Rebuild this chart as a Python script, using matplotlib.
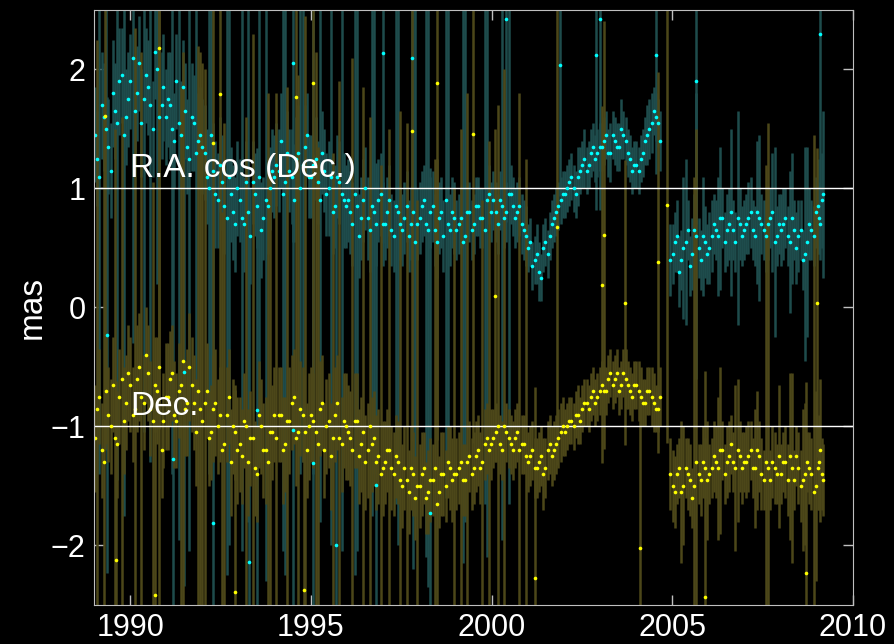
import numpy as np
import matplotlib
matplotlib.use("Agg")
import matplotlib.pyplot as plt

plt.rcParams['font.family'] = ['Liberation Sans', 'DejaVu Sans']

# --- sessions, first set (shared by both components) ---
t = [1989.03, 1989.15, 1989.27, 1989.40, 1989.52, 1989.64, 1989.77, 1989.89,
     1990.01, 1990.13, 1990.25, 1990.38, 1990.50, 1990.62, 1990.74, 1990.87, 1990.98,
     1991.10, 1991.22, 1991.34, 1991.46, 1991.58, 1991.70, 1991.82, 1991.94,
     1992.06, 1992.18, 1992.30, 1992.42, 1992.55, 1992.67, 1992.79, 1992.91,
     1993.03, 1993.15, 1993.27, 1993.39, 1993.51, 1993.63, 1993.75, 1993.87, 1993.99,
     1994.11, 1994.23, 1994.35, 1994.47, 1994.59, 1994.71, 1994.83, 1994.95,
     1995.07, 1995.19, 1995.31, 1995.43, 1995.55, 1995.67, 1995.79, 1995.91,
     1996.03, 1996.15, 1996.27, 1996.39, 1996.51, 1996.63, 1996.75, 1996.87, 1996.99,
     1997.11, 1997.23, 1997.35, 1997.47, 1997.59, 1997.71, 1997.83, 1997.95,
     1998.07, 1998.19, 1998.31, 1998.43, 1998.55, 1998.67, 1998.79, 1998.91,
     1999.03, 1999.15, 1999.27, 1999.39, 1999.51, 1999.63, 1999.75, 1999.87, 1999.99,
     2000.11, 2000.23, 2000.35, 2000.47, 2000.59, 2000.71, 2000.83, 2000.95,
     2001.07, 2001.19, 2001.31, 2001.43, 2001.55, 2001.67, 2001.79, 2001.91,
     2002.03, 2002.15, 2002.27, 2002.39, 2002.51, 2002.63, 2002.75, 2002.87, 2002.99,
     2003.11, 2003.23, 2003.35, 2003.47, 2003.59, 2003.71, 2003.83, 2003.95,
     2004.07, 2004.19, 2004.31, 2004.43, 2004.55, 2004.67, 2004.95,
     2005.07, 2005.19, 2005.31, 2005.43, 2005.55, 2005.67, 2005.79, 2005.91,
     2006.03, 2006.15, 2006.27, 2006.39, 2006.51, 2006.63, 2006.75, 2006.87, 2006.99,
     2007.11, 2007.23, 2007.35, 2007.47, 2007.59, 2007.71, 2007.83, 2007.95,
     2008.07, 2008.19, 2008.31, 2008.43, 2008.55, 2008.67, 2008.79, 2008.91,
     2009.03, 2009.10, 2009.17]

# R.A. cos(Dec.) offsets [mas]
ra = [0.45, 0.10, 0.60, 0.35, 0.80, 0.55, 0.95, 0.60,
      0.90, 0.65, 1.05, 0.75, 0.85, 0.50, 1.00, 0.70, 0.60,
      0.70, 0.40, 0.55, 0.85, 0.35, 0.60, 0.30, 0.45,
      0.30, 0.00, 0.15, -0.10, 0.05, -0.25, -0.05, -0.30,
      -0.10, -0.30, -0.20, 0.05, -0.15, -0.35, -0.10, 0.00, 0.10,
      0.15, -0.05, 0.30, 0.10, 0.25, 0.00, 0.35, 0.10,
      0.20, 0.05, 0.30, -0.05, 0.10, -0.15, 0.05, -0.10,
      -0.10, -0.30, -0.15, -0.25, 0.00, -0.35, -0.20, -0.10, -0.30,
      -0.20, -0.35, -0.15, -0.30, -0.25, -0.40, -0.20, -0.30,
      -0.15, -0.30, -0.20, -0.35, -0.25, -0.40, -0.30, -0.20,
      -0.35, -0.25, -0.40, -0.20, -0.30, -0.15, -0.25, -0.10, -0.20,
      -0.20, -0.10, -0.25, -0.05, -0.15, -0.20, -0.30, -0.40,
      -0.45, -0.60, -0.70, -0.50, -0.55, -0.30, -0.20, -0.10,
      -0.05, 0.05, 0.00, 0.10, 0.20, 0.15, 0.30, 0.25, 0.35,
      0.40, 0.30, 0.45, 0.35, 0.50, 0.40, 0.25, 0.20,
      0.15, 0.30, 0.45, 0.55, 0.60, 0.40, -0.60,
      -0.45, -0.70, -0.50, -0.35, -0.55, -0.40, -0.60, -0.45,
      -0.50, -0.30, -0.40, -0.25, -0.35, -0.20, -0.45, -0.30, -0.35,
      -0.25, -0.35, -0.20, -0.30, -0.40, -0.25, -0.45, -0.30,
      -0.30, -0.40, -0.25, -0.50, -0.35, -0.55, -0.30, -0.40,
      -0.15, -0.30, -0.05]

ra_err = [0.40, 2.50, 0.45, 0.40, 0.45, 3.00, 0.40, 0.40,
          0.40, 0.45, 0.40, 2.80, 0.40, 0.40, 1.80, 0.45, 0.40,
          0.45, 0.40, 3.50, 0.40, 0.40, 0.45, 2.20, 0.40,
          0.40, 2.40, 0.40, 0.40, 0.40, 3.00, 0.40, 0.40,
          0.35, 0.40, 2.60, 0.35, 0.35, 0.40, 3.20, 0.35, 0.35,
          0.35, 3.00, 0.35, 0.40, 0.35, 2.40, 0.35, 0.35,
          2.60, 0.35, 0.35, 0.35, 3.10, 0.35, 0.35, 0.40,
          0.35, 0.35, 2.90, 0.35, 0.35, 0.35, 2.20, 0.35, 0.35,
          0.30, 0.30, 2.50, 0.30, 0.30, 0.30, 3.00, 0.30,
          0.30, 2.80, 0.30, 0.30, 0.30, 0.30, 2.00, 0.30,
          0.25, 0.25, 2.40, 0.25, 0.25, 0.25, 0.25, 3.00, 0.25,
          0.25, 0.25, 0.25, 2.60, 0.25, 0.25, 0.25, 0.25,
          0.20, 0.20, 0.25, 0.20, 0.20, 0.20, 0.20, 0.20,
          0.20, 0.20, 0.20, 0.25, 0.20, 0.20, 0.20, 0.20, 0.20,
          0.20, 0.20, 0.20, 0.20, 0.25, 0.20, 0.20, 0.20,
          0.20, 0.20, 0.25, 0.25, 0.20, 0.25, 0.30,
          0.25, 0.30, 0.60, 0.25, 0.30, 1.20, 0.25, 0.30,
          0.30, 0.25, 0.50, 0.25, 0.30, 0.70, 0.25, 0.30, 0.25,
          0.30, 0.25, 0.60, 0.25, 0.30, 0.25, 0.80, 0.25,
          0.30, 0.25, 0.55, 0.30, 0.25, 0.90, 0.30, 0.25,
          0.40, 0.30, 0.70]

# Dec. offsets [mas]
dec = [-0.10, 0.25, -0.30, 0.10, 0.35, -0.15, 0.40, 0.20,
       0.35, 0.15, 0.50, 0.20, 0.45, 0.05, 0.30, -0.20, 0.25,
       0.40, 0.10, 0.30, 0.55, 0.20, 0.35, -0.05, 0.15,
       0.20, -0.10, 0.15, 0.00, -0.20, 0.10, -0.30, -0.05,
       -0.15, 0.05, -0.30, -0.10, -0.40, 0.00, -0.20, -0.05, 0.10,
       0.10, -0.20, 0.05, 0.20, -0.10, 0.15, -0.05, 0.00,
       0.05, -0.15, 0.20, 0.00, -0.25, 0.10, -0.10, 0.05,
       -0.05, -0.20, 0.05, -0.15, -0.30, 0.00, -0.10, -0.25, -0.35,
       -0.20, -0.35, -0.25, -0.45, -0.35, -0.55, -0.40, -0.50,
       -0.40, -0.60, -0.45, -0.35, -0.55, -0.40, -0.30, -0.45,
       -0.40, -0.30, -0.45, -0.25, -0.35, -0.20, -0.30, -0.10, -0.15,
       -0.05, -0.15, 0.00, -0.10, -0.20, -0.05, -0.15, -0.25,
       -0.25, -0.35, -0.30, -0.40, -0.20, -0.25, -0.15, -0.05,
       -0.05, 0.05, 0.00, 0.10, 0.15, 0.20, 0.25, 0.20, 0.30,
       0.30, 0.40, 0.35, 0.45, 0.35, 0.40, 0.30, 0.35,
       0.30, 0.20, 0.30, 0.25, 0.15, 0.25, -0.40,
       -0.55, -0.35, -0.50, -0.40, -0.60, -0.30, -0.45, -0.35,
       -0.40, -0.25, -0.35, -0.20, -0.30, -0.15, -0.35, -0.25, -0.30,
       -0.25, -0.35, -0.20, -0.40, -0.30, -0.45, -0.35, -0.25,
       -0.30, -0.45, -0.35, -0.25, -0.50, -0.40, -0.35, -0.55,
       -0.35, -0.20, -0.45]

dec_err = [0.45, 0.40, 3.00, 0.40, 0.40, 0.45, 2.20, 0.40,
           0.40, 3.20, 0.45, 0.40, 0.40, 2.00, 0.45, 0.40, 0.45,
           0.40, 0.45, 0.40, 2.60, 0.45, 0.40, 0.45, 3.00,
           2.80, 0.40, 0.45, 0.40, 2.00, 0.40, 0.45, 0.40,
           0.40, 0.40, 0.45, 3.40, 0.40, 0.40, 0.45, 2.20, 0.40,
           0.40, 0.45, 2.80, 0.40, 0.40, 0.40, 3.50, 0.45,
           0.40, 2.50, 0.40, 0.40, 0.45, 0.40, 3.00, 0.40,
           0.40, 3.30, 0.40, 0.40, 0.40, 2.60, 0.40, 0.40, 0.40,
           0.35, 0.35, 0.35, 3.10, 0.35, 0.35, 0.35, 2.40,
           0.35, 0.30, 0.35, 2.60, 0.30, 0.35, 0.30, 0.35,
           0.30, 2.80, 0.30, 0.30, 0.30, 0.30, 2.20, 0.30, 0.30,
           0.25, 0.25, 3.00, 0.25, 0.25, 0.25, 0.25, 2.50,
           0.25, 0.25, 0.25, 0.30, 0.25, 0.25, 0.25, 0.25,
           0.20, 0.20, 0.20, 0.25, 0.20, 0.20, 0.20, 0.20, 0.20,
           0.20, 0.20, 0.20, 0.20, 0.20, 0.25, 0.20, 0.20,
           0.25, 0.20, 0.20, 0.25, 0.20, 0.25, 0.30,
           0.30, 0.25, 0.50, 0.30, 0.25, 2.80, 0.30, 0.25,
           0.25, 0.30, 0.60, 0.25, 0.30, 0.25, 0.70, 0.30, 0.25,
           0.30, 0.25, 0.50, 0.30, 2.50, 0.25, 0.30, 0.60,
           0.25, 0.30, 0.80, 0.25, 0.30, 0.60, 0.30, 3.00,
           0.35, 0.60, 0.30]

# --- sessions, second set ---
t2 = [1989.09, 1989.21, 1989.33, 1989.46, 1989.58, 1989.70, 1989.83, 1989.95,
      1990.07, 1990.19, 1990.31, 1990.44, 1990.56, 1990.68, 1990.80, 1990.92,
      1991.04, 1991.16, 1991.28, 1991.40, 1991.52, 1991.64, 1991.76, 1991.88,
      1992.00, 1992.12, 1992.24, 1992.36, 1992.48, 1992.61, 1992.73, 1992.85, 1992.97,
      1993.09, 1993.21, 1993.33, 1993.45, 1993.57, 1993.69, 1993.81, 1993.93,
      1994.05, 1994.17, 1994.29, 1994.41, 1994.53, 1994.65, 1994.77, 1994.89,
      1995.01, 1995.13, 1995.25, 1995.37, 1995.49, 1995.61, 1995.73, 1995.85, 1995.97,
      1996.09, 1996.21, 1996.33, 1996.45, 1996.57, 1996.69, 1996.81, 1996.93,
      1997.05, 1997.17, 1997.29, 1997.41, 1997.53, 1997.65, 1997.77, 1997.89,
      1998.01, 1998.13, 1998.25, 1998.37, 1998.49, 1998.61, 1998.73, 1998.85, 1998.97,
      1999.09, 1999.21, 1999.33, 1999.45, 1999.57, 1999.69, 1999.81, 1999.93,
      2000.05, 2000.17, 2000.29, 2000.41, 2000.53, 2000.65, 2000.77, 2000.89,
      2001.01, 2001.13, 2001.25, 2001.37, 2001.49, 2001.61, 2001.73, 2001.85, 2001.97,
      2002.09, 2002.21, 2002.33, 2002.45, 2002.57, 2002.69, 2002.81, 2002.93,
      2003.05, 2003.17, 2003.29, 2003.41, 2003.53, 2003.65, 2003.77, 2003.89,
      2004.01, 2004.13, 2004.25, 2004.37, 2004.49, 2004.61,
      2005.01, 2005.13, 2005.25, 2005.37, 2005.49, 2005.61, 2005.73, 2005.85, 2005.97,
      2006.09, 2006.21, 2006.33, 2006.45, 2006.57, 2006.69, 2006.81, 2006.93,
      2007.05, 2007.17, 2007.29, 2007.41, 2007.53, 2007.65, 2007.77, 2007.89,
      2008.01, 2008.13, 2008.25, 2008.37, 2008.49, 2008.61, 2008.73, 2008.85, 2008.97,
      2009.07, 2009.14]

ra2 = [0.25, 0.70, 0.50, 0.15, 0.65, 0.90, 0.45, 0.75,
       1.10, 0.80, 0.55, 0.95, 0.70, 1.15, 0.60, 0.85,
       0.75, 0.50, 0.90, 0.45, 0.65, 0.25, 0.55, 0.40,
       0.35, 0.10, 0.45, -0.05, 0.20, -0.15, 0.10, -0.20, 0.00,
       -0.25, 0.05, -0.40, -0.05, 0.10, -0.25, -0.15, 0.15,
       0.20, 0.40, 0.05, 0.15, -0.10, 0.30, 0.20, 0.45,
       0.10, 0.25, -0.10, 0.15, 0.00, -0.20, 0.10, -0.05, -0.15,
       -0.20, -0.05, -0.40, -0.10, -0.25, -0.15, -0.30, -0.05,
       -0.30, -0.10, -0.40, -0.20, -0.35, -0.15, -0.30, -0.45,
       -0.25, -0.10, -0.35, -0.15, -0.45, -0.20, -0.10, -0.35, -0.25,
       -0.30, -0.45, -0.20, -0.35, -0.15, -0.25, -0.35, -0.05,
       -0.10, -0.30, -0.15, -0.20, -0.05, -0.25, -0.15, -0.35,
       -0.50, -0.65, -0.55, -0.75, -0.45, -0.40, -0.25, -0.15, -0.05,
       0.00, 0.10, -0.05, 0.15, 0.25, 0.20, 0.35, 0.30,
       0.35, 0.45, 0.30, 0.40, 0.35, 0.45, 0.30, 0.15,
       0.20, 0.25, 0.40, 0.50, 0.65, 0.55,
       -0.55, -0.40, -0.60, -0.45, -0.65, -0.35, -0.50, -0.40, -0.55,
       -0.40, -0.35, -0.25, -0.45, -0.30, -0.35, -0.25, -0.40,
       -0.30, -0.20, -0.40, -0.25, -0.35, -0.30, -0.20, -0.40,
       -0.35, -0.25, -0.45, -0.35, -0.40, -0.60, -0.45, -0.35, -0.20,
       -0.25, -0.10]

ra2_err = [0.40, 0.45, 2.70, 0.40, 0.40, 0.45, 3.20, 0.40,
           2.40, 0.40, 0.45, 0.40, 3.00, 0.40, 0.40, 0.45,
           0.40, 2.90, 0.40, 0.45, 0.40, 3.30, 0.40, 0.40,
           0.40, 0.40, 2.60, 0.45, 0.40, 0.40, 3.10, 0.40, 0.40,
           2.80, 0.35, 0.40, 0.35, 2.40, 0.35, 0.40, 0.35,
           0.35, 0.40, 3.30, 0.35, 0.35, 0.40, 2.50, 0.35,
           0.35, 0.35, 2.70, 0.35, 0.40, 0.35, 0.35, 3.00, 0.35,
           0.35, 3.20, 0.35, 0.35, 0.35, 2.60, 0.35, 0.35,
           0.30, 0.30, 0.30, 2.80, 0.30, 0.30, 0.30, 2.30,
           0.30, 0.30, 3.00, 0.30, 0.30, 0.30, 2.50, 0.30, 0.30,
           0.25, 2.70, 0.25, 0.25, 0.25, 0.25, 2.30, 0.25,
           0.25, 0.25, 2.80, 0.25, 0.25, 0.25, 0.25, 0.25,
           0.20, 0.20, 0.25, 0.20, 0.20, 0.20, 0.20, 0.20, 0.20,
           0.20, 0.20, 0.20, 0.20, 0.25, 0.20, 0.20, 0.20,
           0.20, 0.20, 0.25, 0.20, 0.20, 0.20, 0.20, 0.20,
           0.20, 0.20, 0.20, 0.25, 0.20, 0.20,
           0.25, 0.30, 0.25, 0.70, 0.25, 0.30, 0.25, 0.50, 0.25,
           0.30, 0.25, 0.60, 0.25, 0.30, 0.25, 0.90, 0.25,
           0.25, 0.30, 0.25, 0.70, 0.25, 0.30, 0.50, 0.25,
           0.30, 0.25, 0.60, 0.25, 0.30, 0.25, 0.80, 0.25, 0.30,
           0.30, 0.40]

dec2 = [0.15, -0.20, 0.30, 0.00, -0.10, 0.25, 0.05, 0.45,
        0.10, 0.40, 0.25, 0.60, 0.15, 0.35, 0.50, 0.05,
        0.25, 0.45, 0.05, 0.35, 0.15, 0.50, 0.20, 0.30,
        0.05, 0.30, -0.05, 0.20, 0.10, -0.15, 0.25, 0.00, -0.20,
        -0.25, 0.00, -0.10, -0.35, 0.10, -0.20, -0.30, -0.05,
        -0.10, 0.10, -0.15, 0.05, 0.25, -0.05, 0.10, -0.20,
        0.10, -0.05, 0.15, -0.20, 0.05, -0.10, 0.20, -0.15, 0.00,
        -0.10, 0.05, -0.25, -0.05, -0.20, -0.15, -0.30, -0.40,
        -0.30, -0.20, -0.40, -0.30, -0.50, -0.45, -0.35, -0.60,
        -0.50, -0.35, -0.55, -0.45, -0.65, -0.40, -0.50, -0.35, -0.40,
        -0.35, -0.45, -0.30, -0.40, -0.25, -0.35, -0.15, -0.20,
        -0.10, 0.00, -0.20, -0.05, -0.15, -0.10, -0.20, -0.15,
        -0.30, -0.20, -0.35, -0.25, -0.35, -0.15, -0.20, -0.10, 0.00,
        0.00, 0.05, 0.10, 0.05, 0.20, 0.15, 0.30, 0.25,
        0.35, 0.30, 0.45, 0.40, 0.30, 0.45, 0.35, 0.25,
        0.35, 0.25, 0.20, 0.30, 0.20, 0.15,
        -0.50, -0.40, -0.55, -0.35, -0.45, -0.50, -0.40, -0.30, -0.45,
        -0.35, -0.30, -0.20, -0.40, -0.25, -0.30, -0.20, -0.35,
        -0.30, -0.20, -0.35, -0.25, -0.45, -0.35, -0.30, -0.40,
        -0.40, -0.30, -0.25, -0.45, -0.35, -0.45, -0.30, -0.40, -0.50,
        -0.30, -0.40]

dec2_err = [3.10, 0.40, 0.45, 0.40, 2.60, 0.40, 0.45, 0.40,
            0.40, 0.45, 2.90, 0.40, 0.40, 0.40, 3.40, 0.40,
            0.45, 0.40, 0.40, 2.50, 0.40, 0.45, 0.40, 2.90,
            3.00, 0.40, 0.40, 0.45, 0.40, 2.70, 0.40, 0.40, 0.45,
            0.40, 2.60, 0.40, 0.40, 0.45, 0.40, 3.10, 0.40,
            2.90, 0.40, 0.40, 0.45, 0.40, 3.00, 0.40, 0.40,
            0.40, 3.20, 0.40, 0.40, 0.40, 2.40, 0.40, 0.40, 0.45,
            0.40, 0.40, 0.40, 2.90, 0.40, 0.40, 0.40, 2.60,
            0.35, 2.70, 0.35, 0.35, 0.35, 3.00, 0.35, 0.35,
            0.35, 0.30, 0.35, 0.30, 2.90, 0.35, 0.30, 0.35, 2.40,
            0.30, 0.30, 3.10, 0.30, 0.30, 0.30, 0.30, 2.60,
            0.25, 2.70, 0.25, 0.25, 0.25, 0.25, 3.00, 0.25,
            0.25, 0.25, 0.25, 0.25, 0.25, 0.25, 0.25, 0.25, 0.25,
            0.20, 0.20, 0.20, 0.20, 0.20, 0.20, 0.20, 0.20,
            0.20, 0.20, 0.20, 0.20, 0.20, 0.20, 0.20, 0.20,
            0.20, 0.25, 0.20, 0.20, 0.25, 0.20,
            0.30, 0.25, 0.60, 0.25, 0.30, 2.60, 0.25, 0.30, 0.50,
            0.25, 0.30, 0.70, 0.25, 0.30, 0.25, 0.60, 0.30,
            0.30, 0.25, 0.50, 0.30, 0.25, 2.90, 0.30, 0.25,
            0.25, 0.30, 0.70, 0.25, 0.30, 0.60, 0.25, 0.30, 0.80,
            0.40, 0.30]

# isolated points far from the bulk
ra_far_t = [1989.36, 1991.50, 1991.20, 1992.30, 1993.30, 1993.50, 1994.50, 1995.05,
            1995.70, 1996.80, 1998.30, 1997.00, 1997.80, 1994.50, 2000.40, 2003.00,
            2009.10, 2005.65, 2002.90, 2004.55, 2001.90]
ra_far = [-1.23, -1.54, -2.27, -2.81, -3.14, -1.86, -2.03, -2.31,
          -3.00, -2.49, -2.73, 1.14, 1.10, 1.05, 1.42, 1.42,
          1.30, 0.90, 1.12, 1.12, 1.04]
ra_far_err = [2.0, 1.8, 2.5, 3.0, 2.8, 2.2, 2.4, 2.6,
              3.0, 2.7, 2.9, 1.6, 1.8, 1.5, 1.7, 1.6,
              1.4, 1.2, 1.3, 1.0, 1.1]

dec_far_t = [1989.30, 1992.30, 1992.50, 1995.05, 1994.60, 1997.80, 1998.50, 1990.80,
             1999.50, 2001.80, 2003.10, 2004.60, 2004.85, 2009.00, 2000.10, 2003.70,
             2003.05, 1990.70, 1992.90, 1989.60, 1994.80, 2005.90, 2008.70, 2004.10,
             2001.20]
dec_far = [2.61, 2.38, 2.79, 2.89, 2.77, 2.48, 2.89, 3.18,
           2.46, 1.68, 1.61, 1.38, 1.86, 1.04, 1.10, 1.04,
           1.19, -1.42, -1.39, -1.12, -1.37, -1.43, -1.23, -1.02,
           -1.27]
dec_far_err = [2.8, 2.5, 3.0, 3.0, 2.9, 2.6, 3.0, 3.2,
               2.6, 2.0, 1.8, 1.6, 2.0, 1.3, 1.4, 1.2,
               1.5, 1.8, 1.7, 1.5, 1.8, 1.9, 1.6, 1.3,
               1.6]

ra_shift = 1.0
dec_shift = -1.0

teal = '#1e4c4c'
olive = '#4c4719'

t_ra = np.concatenate([t, t2, ra_far_t])
y_ra = np.concatenate([ra, ra2, ra_far]) + ra_shift
e_ra = np.concatenate([ra_err, ra2_err, ra_far_err])
t_dec = np.concatenate([t, t2, dec_far_t])
y_dec = np.concatenate([dec, dec2, dec_far]) + dec_shift
e_dec = np.concatenate([dec_err, dec2_err, dec_far_err])

fig = plt.figure(figsize=(8.95, 6.44), dpi=100, facecolor='black')
ax = fig.add_axes([0.105, 0.0606, 0.848, 0.924])
ax.set_facecolor('black')

ax.errorbar(t_ra, y_ra, yerr=e_ra, fmt='none', ecolor=teal, elinewidth=1.8, capsize=0)
ax.errorbar(t_dec, y_dec, yerr=e_dec, fmt='none', ecolor=olive, elinewidth=1.8, capsize=0)

ax.axhline(ra_shift, color='white', lw=1)
ax.axhline(dec_shift, color='white', lw=1)

ax.plot(t_ra, y_ra, 'o', ms=2.6, color='cyan', mec='none')
ax.plot(t_dec, y_dec, 'o', ms=2.6, color='yellow', mec='none')

ax.text(1990.0, 1.1, 'R.A. cos (Dec.)', color='white', fontsize=24)
ax.text(1990.0, -0.9, 'Dec.', color='white', fontsize=24)

ax.set_xlim(1989, 2010)
ax.set_ylim(-2.5, 2.5)
ax.set_xticks([1990, 1995, 2000, 2005, 2010])
ax.set_yticks([-2, -1, 0, 1, 2])
ax.set_yticklabels(['\u22122', '\u22121', '0', '1', '2'])
ax.tick_params(direction='in', length=7, width=1, colors='#bfbfbf',
               labelcolor='white', labelsize=22, top=True, right=True, pad=6)
for s in ax.spines.values():
    s.set_color('#bfbfbf')
ax.set_ylabel('mas', color='white', fontsize=24, labelpad=2)

fig.savefig('out.png', dpi=100, facecolor='black')
